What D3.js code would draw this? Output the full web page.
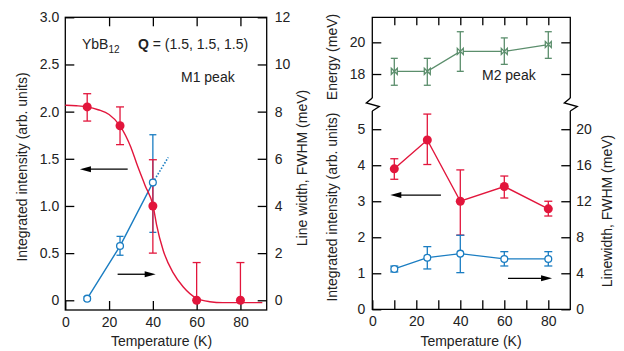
<!DOCTYPE html>
<html>
<head>
<meta charset="utf-8">
<script src="https://cdn.jsdelivr.net/npm/d3@7"></script>
<style>
  body { margin: 0; background: #fff; }
  svg { display: block; font-family: "Liberation Sans", Arial, sans-serif; }
  .tick text { font-size: 14px; fill: #222; }
  .tick line { stroke: #000; stroke-width: 1.3; }
</style>
</head>
<body>
<svg id="chart" width="624" height="351"></svg>
<script>
// ---- left panel, M1 peak ----
const tempM1 = [10, 25, 40, 60, 80];
const intM1 = [2.05, 1.85, 1.0, 0, 0];
const intM1Lo = [1.90, 1.65, 0.50, 0, 0];
const intM1Hi = [2.19, 2.05, 1.49, 0.40, 0.40];

const tempW1 = [10, 25, 40];
const widthM1 = [0.07, 2.30, 4.99];
const widthM1Lo = [0.0, 1.91, 2.88];
const widthM1Hi = [0.15, 2.71, 7.02];
const tempW1Ext = [40, 47];
const widthM1Ext = [4.99, 6.06];

// fitted curve
const fitT = [0, 5, 10, 15, 20, 25, 30, 32.6, 36.4, 40.2, 41.7, 44.7, 49.3, 53.9, 60, 66, 72, 90];
const fitI = [2.068, 2.062, 2.05, 2.02, 1.97, 1.85, 1.62, 1.45, 1.22, 0.99, 0.80, 0.53, 0.29, 0.14, 0.02, -0.015, -0.025, -0.025];

const ticksIntL = [0, 0.5, 1.0, 1.5, 2.0, 2.5, 3.0];
const ticksWidthL = [0, 2, 4, 6, 8, 10, 12];
const ticksTempL = [0, 20, 40, 60, 80];

// ---- right panel, M2 peak ----
const tempM2 = [10, 25, 40, 60, 80];
const energyM2 = [18.17, 18.17, 19.43, 19.43, 19.86];
const energyM2Lo = [17.29, 17.29, 18.17, 18.61, 18.99];
const energyM2Hi = [18.99, 18.99, 20.67, 20.28, 20.67];
const intM2 = [3.90, 4.70, 3.00, 3.41, 2.79];
const intM2Lo = [3.61, 4.02, 2.06, 3.09, 2.59];
const intM2Hi = [4.18, 5.42, 3.87, 3.70, 3.00];
const widthM2 = [4.48, 5.73, 6.18, 5.59, 5.59];
const widthM2Lo = [4.15, 4.48, 4.07, 4.81, 4.81];
const widthM2Hi = [4.80, 6.96, 8.22, 6.40, 6.40];

const ticksEnergy = [18, 20];
const ticksIntR = [0, 1, 2, 3, 4, 5];
const ticksWidthR = [0, 4, 8, 12, 16, 20];
const ticksTempR = [0, 20, 40, 60, 80];
const ticksTempMinor = [10, 30, 50, 70];

const RED = "#e2163c", BLUE = "#1a7dc2", GREEN = "#5b8e6c";

const svg = d3.select("#chart");
const fmtInt = d3.format("d");

// scales
const xL = d3.scaleLinear().domain([0, 92]).range([65.3, 266.7]);
const yL = d3.scaleLinear().domain([-0.103, 3]).range([310, 17.3]);
const yL2 = d3.scaleLinear().domain([-0.412, 12]).range([310, 17.3]);

const xR = d3.scaleLinear().domain([0, 90]).range([372.3, 570.3]);
const yE = d3.scaleLinear().domain([16.36, 21.58]).range([100, 17.3]);
const yI = d3.scaleLinear().domain([0, 5.45]).range([309.3, 113]);
const yW = d3.scaleLinear().domain([0, 21.8]).range([309.3, 113]);

function axisG(axis) {
  const g = svg.append("g").call(axis);
  g.select(".domain").remove();
  return g;
}

// ---------- left panel axes ----------
axisG(d3.axisLeft(yL).tickValues(ticksIntL).tickSize(-9).tickPadding(6)
  .tickFormat(d => d === 0 ? "0" : d3.format(".1f")(d)))
  .attr("transform", `translate(${xL(0)},0)`);
axisG(d3.axisRight(yL2).tickValues(ticksWidthL).tickSize(-9).tickPadding(8).tickFormat(fmtInt))
  .attr("transform", `translate(${xL(92)},0)`);
axisG(d3.axisBottom(xL).tickValues(ticksTempL).tickSize(-9).tickPadding(7).tickFormat(fmtInt))
  .attr("transform", `translate(0,${yL(-0.103)})`);
axisG(d3.axisTop(xL).tickValues(ticksTempL.slice(1)).tickSize(-9).tickFormat(""))
  .attr("transform", `translate(0,${yL(3)})`);

svg.append("rect")
  .attr("x", xL(0)).attr("y", yL(3))
  .attr("width", xL(92) - xL(0)).attr("height", yL(-0.103) - yL(3))
  .attr("fill", "none").attr("stroke", "#000").attr("stroke-width", 1.3);

// ---------- right panel axes ----------
axisG(d3.axisLeft(yE).tickValues(ticksEnergy).tickSize(-9).tickPadding(7).tickFormat(fmtInt))
  .attr("transform", `translate(${xR(0)},0)`);
axisG(d3.axisRight(yE).tickValues(ticksEnergy).tickSize(-9).tickFormat(""))
  .attr("transform", `translate(${xR(90)},0)`);
axisG(d3.axisLeft(yI).tickValues(ticksIntR).tickSize(-9).tickPadding(7).tickFormat(fmtInt))
  .attr("transform", `translate(${xR(0)},0)`);
axisG(d3.axisRight(yW).tickValues(ticksWidthR).tickSize(-9).tickPadding(6).tickFormat(fmtInt))
  .attr("transform", `translate(${xR(90)},0)`);
axisG(d3.axisBottom(xR).tickValues(ticksTempR).tickSize(-9).tickPadding(7).tickFormat(fmtInt))
  .attr("transform", `translate(0,${yI(0)})`);
axisG(d3.axisBottom(xR).tickValues(ticksTempMinor).tickSize(-9).tickFormat(""))
  .attr("transform", `translate(0,${yI(0)})`);
axisG(d3.axisTop(xR).tickValues(ticksTempR.slice(1).concat(ticksTempMinor)).tickSize(-8).tickFormat(""))
  .attr("transform", `translate(0,${yE(21.58)})`);

// frame with axis breaks
const frame = svg.append("g").attr("fill", "none").attr("stroke", "#000").attr("stroke-width", 1.3);
const xa = xR(0), xb = xR(90), yTop = yE(21.58), yBot = yI(0);
frame.append("path").attr("d", `M${xa},98 L${xa},${yTop} L${xb},${yTop} L${xb},98`);
frame.append("path").attr("d", `M${xa},111 L${xa},${yBot} L${xb},${yBot} L${xb},111`);
[xa, xb].forEach(x => {
  frame.append("path").attr("d", `M${x},98 L${x - 6},103 L${x + 7},106.5 L${x},111`);
});

// ---------- helpers ----------
function errorBars(g, xs, lo, hi, x, y, color, cap, lowerCap = true) {
  xs.forEach((t, i) => {
    g.append("line").attr("x1", x(t)).attr("x2", x(t)).attr("y1", y(lo[i])).attr("y2", y(hi[i]))
      .attr("stroke", color).attr("stroke-width", 1.3);
    g.append("line").attr("x1", x(t) - cap).attr("x2", x(t) + cap).attr("y1", y(hi[i])).attr("y2", y(hi[i]))
      .attr("stroke", color).attr("stroke-width", 1.3);
    if (lowerCap && !(lo[i] === 0 && color === RED))
      g.append("line").attr("x1", x(t) - cap).attr("x2", x(t) + cap).attr("y1", y(lo[i])).attr("y2", y(lo[i]))
        .attr("stroke", color).attr("stroke-width", 1.3);
  });
}

function lineOf(xs, ys, x, y) {
  return d3.line().x((d, i) => x(xs[i])).y((d, i) => y(ys[i]))(xs);
}

function arrow(x1, x2, y) {
  const dir = x2 > x1 ? 1 : -1;
  svg.append("line").attr("x1", x1).attr("x2", x2 - dir * 9).attr("y1", y).attr("y2", y)
    .attr("stroke", "#000").attr("stroke-width", 1.3);
  svg.append("path")
    .attr("d", `M${x2},${y} L${x2 - dir * 11},${y - 3} L${x2 - dir * 11},${y + 3} Z`)
    .attr("fill", "#000");
}

// ---------- left panel marks ----------
const gL = svg.append("g");

// blue linewidth
gL.append("path").attr("d", lineOf(tempW1, widthM1, xL, yL2))
  .attr("fill", "none").attr("stroke", BLUE).attr("stroke-width", 1.4);
gL.append("path").attr("d", lineOf(tempW1Ext, widthM1Ext, xL, yL2))
  .attr("fill", "none").attr("stroke", BLUE).attr("stroke-width", 1.6).attr("stroke-dasharray", "1.6,1.6");
errorBars(gL, tempW1, widthM1Lo, widthM1Hi, xL, yL2, BLUE, 3.5);

// red fit curve
gL.append("path")
  .attr("d", d3.line().curve(d3.curveMonotoneX).x((d, i) => xL(fitT[i])).y((d, i) => yL(fitI[i]))(fitT))
  .attr("fill", "none").attr("stroke", RED).attr("stroke-width", 1.4);

errorBars(gL, tempM1, intM1Lo, intM1Hi, xL, yL, RED, 4);

gL.selectAll(".w1").data(tempW1).join("circle")
  .attr("cx", d => xL(d)).attr("cy", (d, i) => yL2(widthM1[i])).attr("r", 3.4)
  .attr("fill", "#fff").attr("stroke", BLUE).attr("stroke-width", 1.3);
gL.selectAll(".i1").data(tempM1).join("circle")
  .attr("cx", d => xL(d)).attr("cy", (d, i) => yL(intM1[i])).attr("r", 4.5)
  .attr("fill", RED);

arrow(xL(28.5), xL(6.7), yL(1.39));
arrow(xL(23.9), xL(41.3), yL(0.276));

// ---------- right panel marks ----------
const gR = svg.append("g");

gR.append("path").attr("d", lineOf(tempM2, energyM2, xR, yE))
  .attr("fill", "none").attr("stroke", GREEN).attr("stroke-width", 1.3);
errorBars(gR, tempM2, energyM2Lo, energyM2Hi, xR, yE, GREEN, 3.5);
gR.selectAll(".e2").data(tempM2).join("path")
  .attr("transform", (d, i) => `translate(${xR(d)},${yE(energyM2[i])})`)
  .attr("d", "M-3,-3 L3,3 L3,-3 L-3,3 Z")
  .attr("fill", "#fff").attr("stroke", GREEN).attr("stroke-width", 1.3);

gR.append("path").attr("d", lineOf(tempM2, intM2, xR, yI))
  .attr("fill", "none").attr("stroke", RED).attr("stroke-width", 1.4);
errorBars(gR, tempM2, intM2Lo, intM2Hi, xR, yI, RED, 4);

gR.append("path").attr("d", lineOf(tempM2, widthM2, xR, yW))
  .attr("fill", "none").attr("stroke", BLUE).attr("stroke-width", 1.3);
errorBars(gR, tempM2, widthM2Lo, widthM2Hi, xR, yW, BLUE, 4);

gR.selectAll(".w2").data(tempM2).join("circle")
  .attr("cx", d => xR(d)).attr("cy", (d, i) => yW(widthM2[i])).attr("r", 3.4)
  .attr("fill", "#fff").attr("stroke", BLUE).attr("stroke-width", 1.3);
gR.selectAll(".i2").data(tempM2).join("circle")
  .attr("cx", d => xR(d)).attr("cy", (d, i) => yI(intM2[i])).attr("r", 4.5)
  .attr("fill", RED);

arrow(xR(31.2), xR(8.2), yI(3.17));
arrow(xR(61.7), xR(81.7), yI(0.86));

// ---------- text ----------
const txt = (x, y, s, opts = {}) => {
  const t = svg.append("text").attr("x", x).attr("y", y).attr("font-size", opts.size || 14)
    .attr("fill", "#222").attr("text-anchor", opts.anchor || "start");
  if (opts.rotate) t.attr("transform", `rotate(-90,${x},${y})`);
  t.text(s);
  return t;
};

const yb = txt(82, 49, "YbB");
yb.append("tspan").attr("font-size", 10).attr("dy", 4).text("12");
const q = txt(138, 49, "");
q.append("tspan").attr("font-weight", "bold").text("Q");
q.append("tspan").text(" = (1.5, 1.5, 1.5)");
txt(181, 82, "M1 peak");
txt(482, 80, "M2 peak");

txt(161.5, 346, "Temperature (K)", { anchor: "middle" });
txt(471, 346, "Temperature (K)", { anchor: "middle" });

txt(27, 167, "Integrated intensity (arb. units)", { anchor: "middle", rotate: true });
txt(307, 168, "Line width, FWHM (meV)", { anchor: "middle", rotate: true });
txt(337, 57, "Energy (meV)", { anchor: "middle", rotate: true });
txt(337, 207, "Integrated intensity (arb. units)", { anchor: "middle", rotate: true });
txt(612, 211, "Linewidth, FWHM (meV)", { anchor: "middle", rotate: true });
</script>
</body>
</html>
